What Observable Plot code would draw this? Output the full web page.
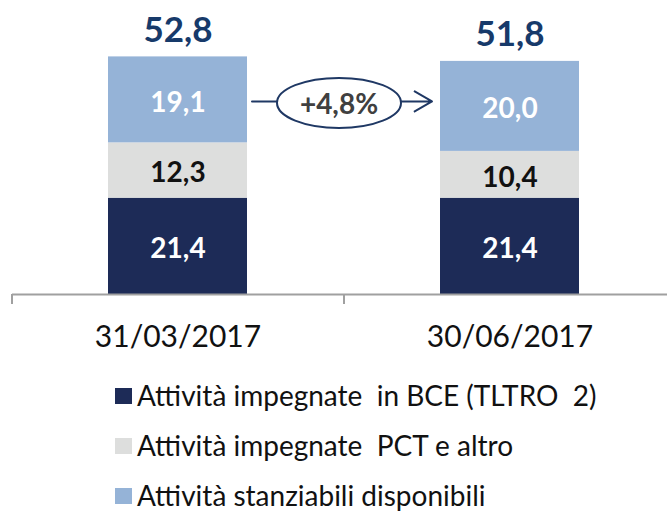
<!DOCTYPE html>
<html><head><meta charset="utf-8">
<script src="https://cdn.jsdelivr.net/npm/d3@7"></script>
<script src="https://cdn.jsdelivr.net/npm/@observablehq/plot@0.6"></script>
<style>
body{margin:0;background:#fff;font-family:Lato, "DejaVu Sans", sans-serif;}
#chart svg{display:block}
#legend{padding-left:115px;font-size:28px;line-height:50px;color:#111;white-space:pre;}
.sw{display:inline-block;width:17px;height:16px;margin-right:5px;margin-bottom:2px;}
</style></head><body>
<div id="chart"></div><div id="legend"></div>
<script>
const categories = ["31/03/2017", "30/06/2017"];
const series = ["Attività impegnate  in BCE (TLTRO  2)", "Attività impegnate  PCT e altro", "Attività stanziabili disponibili"];
const valuesBCE = [21.4, 21.4];
const valuesPCT = [12.3, 10.4];
const valuesStanz = [19.1, 20.0];
const totals = [52.8, 51.8];
const changeLabel = "+4,8%";
const colors = ["#1d2b57", "#dddedd", "#95b3d7"];
const labelColors = ["#ffffff", "#111111", "#ffffff"];

const seriesValues = [valuesBCE, valuesPCT, valuesStanz];
const rows = series.flatMap((s, si) => categories.map((c, ci) => ({category: c, series: s, value: seriesValues[si][ci]})));
const totalRows = categories.map((c, i) => ({category: c, total: totals[i]}));
const fmt = v => v.toFixed(1).replace(".", ",");
const arrowY = valuesBCE[0] + valuesPCT[0] + valuesStanz[0] / 2;

const ellipse = {draw(ctx) {
  const rx = 62, ry = 25, k = 0.5523;
  ctx.moveTo(rx, 0);
  ctx.bezierCurveTo(rx, ry * k, rx * k, ry, 0, ry);
  ctx.bezierCurveTo(-rx * k, ry, -rx, ry * k, -rx, 0);
  ctx.bezierCurveTo(-rx, -ry * k, -rx * k, -ry, 0, -ry);
  ctx.bezierCurveTo(rx * k, -ry, rx, -ry * k, rx, 0);
  ctx.closePath();
}};

const labelMarks = series.map((s, si) =>
  Plot.text(rows, Plot.filter(d => d.series === s, Plot.stackY({
    x: "category", y: "value", z: "series",
    text: d => fmt(d.value), fill: labelColors[si],
    fontSize: 28, fontWeight: "bold", dy: 3
  })))
);

const plot = Plot.plot({
  width: 667, height: 370,
  marginLeft: 12, marginRight: 0, marginTop: 0, marginBottom: 0,
  style: {fontFamily: "Lato, 'DejaVu Sans', sans-serif", background: "white"},
  x: {domain: categories, range: [12, 676], paddingInner: 0.58, paddingOuter: 0.29, axis: null},
  y: {domain: [0, 60], range: [294, 24], axis: null},
  color: {domain: series, range: colors},
  marks: [
    Plot.barY(rows, {x: "category", y: "value", z: "series", fill: "series"}),
    ...labelMarks,
    Plot.text(totalRows, {x: "category", y: "total", text: d => fmt(d.total), lineAnchor: "bottom", dy: -15, fontSize: 35, fontWeight: "bold", fill: "#173a6a"}),
    Plot.ruleY([0], {stroke: "#a0a0a0", strokeWidth: 2}),
    Plot.ruleX(categories, {x: d => d, y1: 0, y2: 0, insetBottom: -10, dx: -166, stroke: "#a0a0a0", strokeWidth: 2}),
    Plot.arrow([changeLabel], {x1: () => categories[0], x2: () => categories[1], y1: () => arrowY, y2: () => arrowY, dy: 1.5, insetStart: 74, insetEnd: 78, headLength: 15, stroke: "#1f3864", strokeWidth: 2}),
    Plot.dot([changeLabel], {x: () => categories[0], y: () => arrowY, dx: 161, dy: 3, symbol: ellipse, r: 10, fill: "white", stroke: "#1f3864", strokeWidth: 2}),
    Plot.text([changeLabel], {x: () => categories[0], y: () => arrowY, dx: 161, dy: 5, text: d => d, fontSize: 28, fontWeight: "bold", fill: "#404040"}),
    Plot.text(categories, {x: d => d, y: 0, dy: 52, lineAnchor: "bottom", text: d => d, fontSize: 30, fill: "#111"})
  ]
});
document.getElementById("chart").append(plot);

const legend = document.getElementById("legend");
series.forEach((s, i) => {
  const row = document.createElement("div");
  const sw = document.createElement("span");
  sw.className = "sw";
  sw.style.background = colors[i];
  row.append(sw, document.createTextNode(s));
  legend.append(row);
});
</script>
</body></html>
